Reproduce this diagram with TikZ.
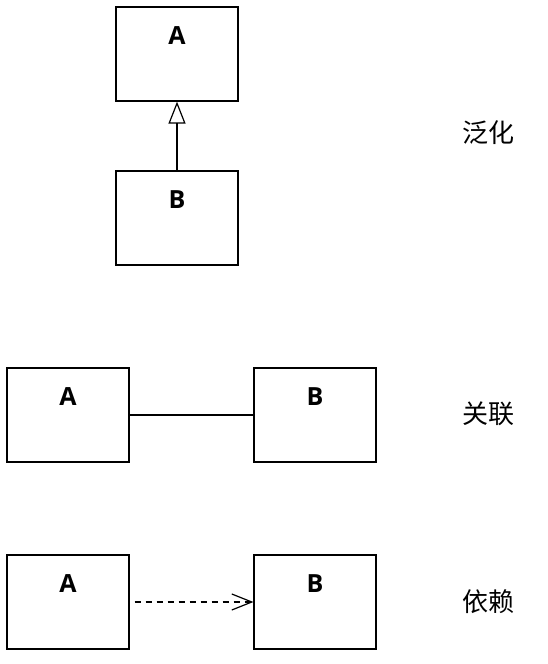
\documentclass[tikz,border=0pt]{standalone}
\usepackage{fontspec}
\setmainfont{Open Sans}
\newfontfamily\cjk{Noto Sans CJK SC}
\usetikzlibrary{arrows.meta}
\begin{document}
\begin{tikzpicture}[x=1pt,y=-1pt,
  box/.style={draw=black,line width=1.2pt,fill=white,minimum width=122pt,minimum height=94pt,inner sep=0pt},
  boxlabel/.style={anchor=center,yshift=-29pt,font=\fontsize{25}{25}\selectfont\bfseries},
  conn/.style={line width=1.2pt,draw=black},
  cnlabel/.style={font=\cjk\fontsize{26}{26}\selectfont}]
\useasboundingbox (0,0) rectangle (548,664);
% generalization
\node[box,label={[boxlabel]north:A}] (gA) at (177,54) {};
\node[box,label={[boxlabel]north:B}] (gB) at (177,218) {};
\draw[conn,-{Triangle[open,length=22pt,width=17pt,line width=1.2pt]}] (gB.north) -- (gA.south);
\node[cnlabel] (t1) at (488,133) {泛化};
% association
\node[box,label={[boxlabel]north:A}] (aA) at (68,415) {};
\node[box,label={[boxlabel]north:B}] (aB) at (315,415) {};
\draw[conn] (aA.east) -- (aB.west);
\node[cnlabel] (t2) at (488,414) {关联};
% dependency
\node[box,label={[boxlabel]north:A}] (dA) at (68,602) {};
\node[box,label={[boxlabel]north:B}] (dB) at (315,602) {};
\draw[conn,dash pattern=on 6pt off 5pt,shorten <=5pt,-{Straight Barb[length=20pt,width=16pt,line width=1.2pt]}] (dA.east) -- (dB.west);
\node[cnlabel] (t3) at (488,602) {依赖};
\end{tikzpicture}
\end{document}
